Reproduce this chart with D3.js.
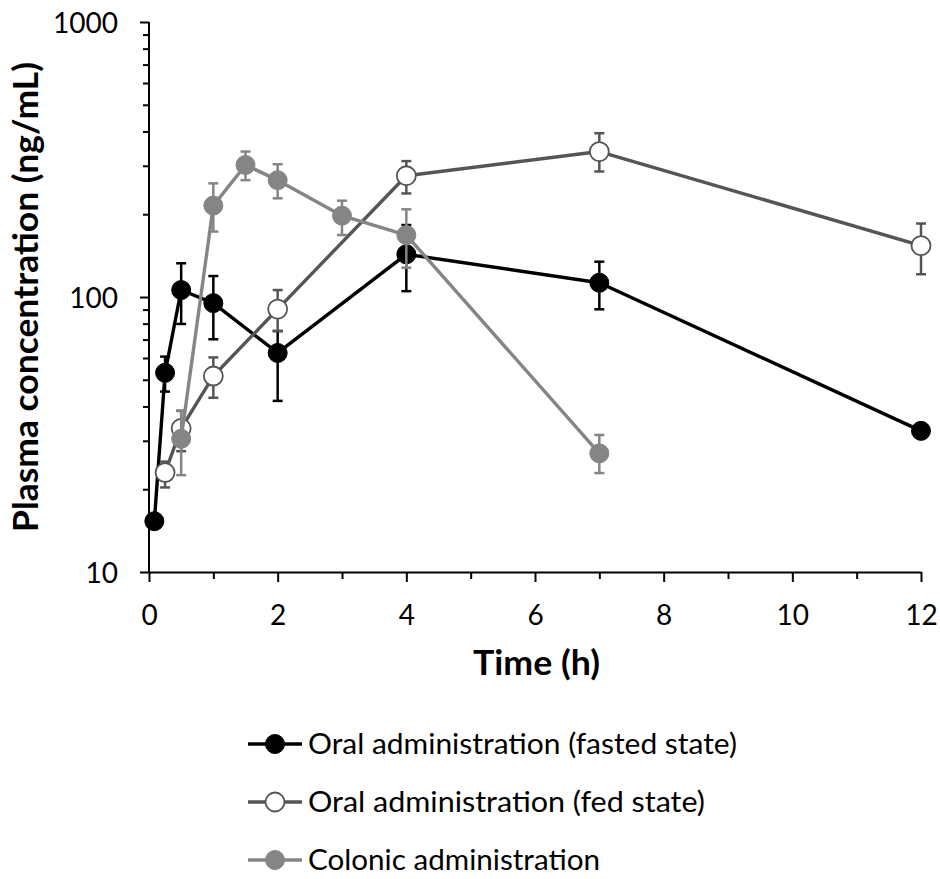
<!DOCTYPE html>
<html>
<head>
<meta charset="utf-8">
<script src="https://cdn.jsdelivr.net/npm/d3@7"></script>
<style>
  html, body { margin: 0; padding: 0; background: #fff; }
  svg { display: block; }
  text { font-family: Lato, "Open Sans", sans-serif; fill: #000; }
</style>
</head>
<body>
<svg id="chart" width="940" height="879"></svg>
<script>
// ---- Data ----
const seriesNames = ["Oral administration (fasted state)", "Oral administration (fed state)", "Colonic administration"];

const fastedTime = [0.083, 0.25, 0.5, 1, 2, 4, 7, 12];
const fastedConc = [15.3, 53, 106, 95, 62.6, 143, 112.7, 32.6];
const fastedHigh = [15.3, 60.7, 132.6, 119.2, 75.2, 182.7, 134.4, 34.2];
const fastedLow  = [15.3, 45.3, 79.8, 70.2, 41.9, 105, 90.2, 31.0];

const fedTime = [0.25, 0.5, 1, 2, 4, 7, 12];
const fedConc = [23.0, 33.3, 51.6, 90.4, 276, 338, 153.7];
const fedHigh = [25.2, 38.6, 60.3, 106, 312, 394, 185];
const fedLow  = [20.3, 27.5, 43.0, 75.2, 238, 286, 121];

const colonicTime = [0.5, 1, 1.5, 2, 3, 4, 7];
const colonicConc = [30.5, 215, 302, 266, 197.6, 168, 27.0];
const colonicHigh = [38.5, 259, 338, 304, 224, 208.4, 31.5];
const colonicLow  = [22.5, 173, 266, 228.5, 168, 127.8, 22.9];

const xTickValues = [0, 1, 2, 3, 4, 5, 6, 7, 8, 9, 10, 11, 12];
const xTickLabels = ["0", "", "2", "", "4", "", "6", "", "8", "", "10", "", "12"];
const yMajorTicks = [10, 100, 1000];
const yTickLabels = ["10", "100", "1000"];

// ---- Styles ----
const styles = [
  { line: "#000000", fill: "#000000", stroke: "#000000", err: "#000000" },
  { line: "#555555", fill: "#ffffff", stroke: "#555555", err: "#555555" },
  { line: "#858585", fill: "#858585", stroke: "#858585", err: "#858585" }
];

const series = [
  { name: seriesNames[0], t: fastedTime, c: fastedConc, hi: fastedHigh, lo: fastedLow },
  { name: seriesNames[1], t: fedTime, c: fedConc, hi: fedHigh, lo: fedLow },
  { name: seriesNames[2], t: colonicTime, c: colonicConc, hi: colonicHigh, lo: colonicLow }
];

const svg = d3.select("#chart");

const x = d3.scaleLinear().domain([0, 12]).range([149, 921]);
const y = d3.scaleLog().domain([10, 1000]).range([572, 22]);

// minor y ticks
const yMinor = [];
[10, 100].forEach(d => { for (let k = 2; k <= 9; k++) yMinor.push(d * k); });

// ---- Axes ----
const gY = svg.append("g").attr("transform", `translate(${x(0)},0)`);
gY.call(d3.axisLeft(y).tickValues(yMinor).tickSize(6).tickFormat(""))
  .call(g => g.select(".domain").remove())
  .call(g => g.selectAll("line").attr("stroke", "#000").attr("stroke-width", 2));
const gY2 = svg.append("g").attr("transform", `translate(${x(0)},0)`);
gY2.call(d3.axisLeft(y).tickValues(yMajorTicks).tickSize(9).tickPadding(22)
    .tickFormat((d, i) => yTickLabels[i]))
  .call(g => g.select(".domain").attr("stroke", "#000").attr("stroke-width", 2)
        .attr("d", `M0,${y(10) + 1}V${y(1000)}`))
  .call(g => g.selectAll("line").attr("stroke", "#000").attr("stroke-width", 2))
  .call(g => g.selectAll("text").attr("font-size", 28).attr("fill", "#000")
        .style("font-family", "Lato, sans-serif").attr("dy", "10px"));

const gX = svg.append("g").attr("transform", `translate(0,${y(10)})`);
gX.call(d3.axisBottom(x).tickValues(xTickValues).tickSizeInner(10).tickSizeOuter(0)
    .tickFormat((d, i) => xTickLabels[i]))
  .call(g => g.select(".domain").attr("stroke", "#000").attr("stroke-width", 2))
  .call(g => g.selectAll("line").attr("stroke", "#000").attr("stroke-width", 2)
        .attr("y2", (d, i) => i % 2 === 0 ? 10 : 7))
  .call(g => g.selectAll("text").attr("font-size", 28).attr("fill", "#000")
        .style("font-family", "Lato, sans-serif").attr("y", 53).attr("dy", 0));

// ---- Axis titles ----
svg.append("text")
  .attr("transform", `translate(38,${(y(10) + y(1000)) / 2}) rotate(-90)`)
  .attr("text-anchor", "middle")
  .attr("font-size", 34).attr("font-weight", "bold")
  .attr("textLength", 470).attr("lengthAdjust", "spacingAndGlyphs")
  .text("Plasma concentration (ng/mL)");

svg.append("text")
  .attr("x", 536.5).attr("y", 675)
  .attr("text-anchor", "middle")
  .attr("font-size", 34).attr("font-weight", "bold")
  .attr("textLength", 127).attr("lengthAdjust", "spacingAndGlyphs")
  .text("Time (h)");

// ---- Series ----
const line = d3.line().x(d => x(d.t)).y(d => y(d.c));

series.forEach((s, si) => {
  const st = styles[si];
  const pts = s.t.map((t, i) => ({ t, c: s.c[i], hi: s.hi[i], lo: s.lo[i] }));
  const g = svg.append("g");
  // error bars
  const eb = g.selectAll(".eb").data(pts.filter(p => p.hi > p.c || p.lo < p.c)).enter().append("g");
  eb.append("line")
    .attr("x1", d => x(d.t)).attr("x2", d => x(d.t))
    .attr("y1", d => y(d.hi)).attr("y2", d => y(d.lo))
    .attr("stroke", st.err).attr("stroke-width", 2.5);
  eb.append("line")
    .attr("x1", d => x(d.t) - 5).attr("x2", d => x(d.t) + 5)
    .attr("y1", d => y(d.hi)).attr("y2", d => y(d.hi))
    .attr("stroke", st.err).attr("stroke-width", 2.5);
  eb.append("line")
    .attr("x1", d => x(d.t) - 5).attr("x2", d => x(d.t) + 5)
    .attr("y1", d => y(d.lo)).attr("y2", d => y(d.lo))
    .attr("stroke", st.err).attr("stroke-width", 2.5);
  // line
  g.append("path").datum(pts).attr("d", line)
    .attr("fill", "none").attr("stroke", st.line).attr("stroke-width", 3.4)
    .attr("stroke-linejoin", "round");
  // markers
  g.selectAll("circle").data(pts).enter().append("circle")
    .attr("cx", d => x(d.t)).attr("cy", d => y(d.c)).attr("r", 9.5)
    .attr("fill", st.fill).attr("stroke", st.stroke).attr("stroke-width", si === 1 ? 1.8 : 1);
});

// ---- Legend ----
const legendY = [744, 802, 860];
const legendLen = [429, 397, 292];
series.forEach((s, si) => {
  const st = styles[si];
  const g = svg.append("g").attr("transform", `translate(0,${legendY[si]})`);
  g.append("line").attr("x1", 248).attr("x2", 302).attr("y1", 0).attr("y2", 0)
    .attr("stroke", st.line).attr("stroke-width", 3.4);
  g.append("circle").attr("cx", 275).attr("cy", 0).attr("r", 9.5)
    .attr("fill", st.fill).attr("stroke", st.stroke).attr("stroke-width", si === 1 ? 1.8 : 1);
  g.append("text").attr("x", 308).attr("y", 10)
    .attr("font-size", 28)
    .attr("textLength", legendLen[si]).attr("lengthAdjust", "spacingAndGlyphs")
    .text(s.name);
});
</script>
</body>
</html>
